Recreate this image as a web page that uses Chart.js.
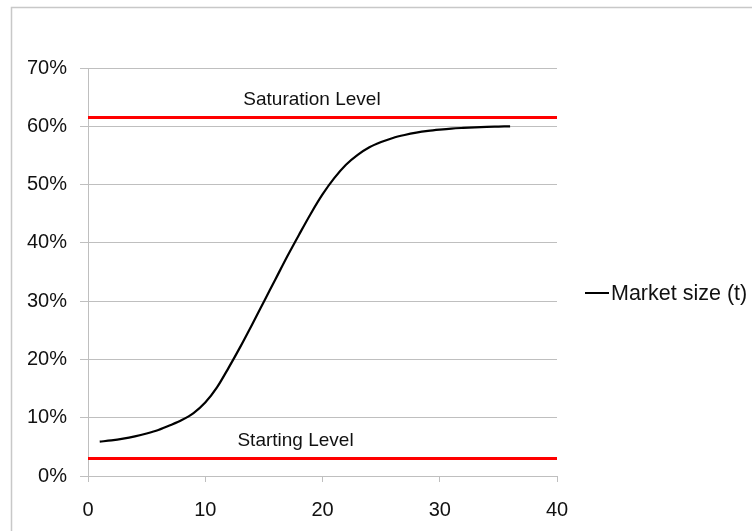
<!DOCTYPE html>
<html>
<head>
<meta charset="utf-8">
<script src="https://cdn.jsdelivr.net/npm/chart.js@4/dist/chart.umd.min.js"></script>
<style>
  html, body { margin: 0; padding: 0; background: #ffffff; }
  #wrap { width: 752px; height: 531px; position: relative; }
</style>
</head>
<body>
<div id="wrap"><canvas id="c" width="752" height="531"></canvas></div>
<script>
// ---- data ----
const periods = [1,2,3,4,5,6,7,8,9,10,11,12,13,14,15,16,17,18,19,20,21,22,23,24,25,26,27,28,29,30,31,32,33,34,35,36];
const marketSize = [5.9,6.1,6.4,6.8,7.3,7.9,8.7,9.6,10.8,12.6,15.2,18.6,22.2,26.0,29.9,33.8,37.7,41.4,45.0,48.3,51.1,53.4,55.1,56.4,57.3,58.0,58.5,58.9,59.2,59.42,59.6,59.72,59.82,59.9,59.95,60.0];
const saturationLevel = 61.5;
const startingLevel = 3;
const xRange = [0, 40];
const yRange = [0, 70];
const seriesLabel = 'Market size (t)';
const saturationLabel = 'Saturation Level';
const startingLabel = 'Starting Level';
const saturationLabelPos = [19.1, 64.5];
const startingLabelPos = [17.7, 6.1];

const FONT = "'Liberation Sans', Arial, sans-serif";

const framePlugin = {
  id: 'frame',
  beforeDraw(chart) {
    const ctx = chart.ctx;
    ctx.save();
    ctx.fillStyle = '#ffffff';
    ctx.fillRect(0, 0, chart.width, chart.height);
    ctx.strokeStyle = '#c8c8c8';
    ctx.lineWidth = 1.5;
    ctx.strokeRect(11.5, 7.5, chart.width + 20, chart.height + 20);
    ctx.restore();
  }
};

const textPlugin = {
  id: 'texts',
  afterDatasetsDraw(chart) {
    const ctx = chart.ctx;
    const xs = chart.scales.x, ys = chart.scales.y;
    ctx.save();
    ctx.fillStyle = '#111111';
    ctx.font = '19px ' + FONT;
    ctx.textAlign = 'center';
    ctx.textBaseline = 'middle';
    ctx.fillText(saturationLabel, xs.getPixelForValue(saturationLabelPos[0]), ys.getPixelForValue(saturationLabelPos[1]));
    ctx.fillText(startingLabel, xs.getPixelForValue(startingLabelPos[0]), ys.getPixelForValue(startingLabelPos[1]));
    // legend
    const lx = 585, ly = 293;
    ctx.strokeStyle = '#000000';
    ctx.lineWidth = 2;
    ctx.beginPath();
    ctx.moveTo(lx, ly);
    ctx.lineTo(lx + 24, ly);
    ctx.stroke();
    ctx.font = '21.5px ' + FONT;
    ctx.textAlign = 'left';
    ctx.fillText(seriesLabel, lx + 26, ly + 1);
    ctx.restore();
  }
};

new Chart(document.getElementById('c'), {
  type: 'line',
  data: {
    datasets: [
      {
        label: seriesLabel,
        data: periods.map((p, i) => ({ x: p, y: marketSize[i] })),
        borderColor: '#000000',
        borderWidth: 2.2,
        pointRadius: 0,
        cubicInterpolationMode: 'monotone',
        fill: false
      },
      {
        label: saturationLabel,
        data: [{ x: xRange[0], y: saturationLevel }, { x: xRange[1], y: saturationLevel }],
        borderColor: '#ff0000',
        borderWidth: 3,
        pointRadius: 0,
        fill: false
      },
      {
        label: startingLabel,
        data: [{ x: xRange[0], y: startingLevel }, { x: xRange[1], y: startingLevel }],
        borderColor: '#ff0000',
        borderWidth: 3,
        pointRadius: 0,
        fill: false
      }
    ]
  },
  options: {
    responsive: false,
    animation: false,
    devicePixelRatio: 1,
    layout: { padding: { left: 0, top: 68, right: 195, bottom: 0 } },
    plugins: { legend: { display: false }, tooltip: { enabled: false } },
    scales: {
      x: {
        type: 'linear',
        min: xRange[0],
        max: xRange[1],
        afterFit(s) { s.height = 55; },
        ticks: { stepSize: 10, color: '#111111', font: { family: FONT, size: 20 }, padding: 16 },
        grid: { display: true, drawOnChartArea: false, drawTicks: true, tickLength: 6, color: '#bfbfbf' },
        border: { display: true, color: '#bfbfbf' }
      },
      y: {
        type: 'linear',
        min: yRange[0],
        max: yRange[1],
        afterFit(s) { s.width = 88; },
        ticks: { stepSize: 10, color: '#111111', font: { family: FONT, size: 20 }, padding: 13, callback: v => v + '%' },
        grid: { color: '#bfbfbf', lineWidth: 1, drawTicks: true, tickLength: 8 },
        border: { display: true, color: '#bfbfbf' }
      }
    }
  },
  plugins: [framePlugin, textPlugin]
});
</script>
</body>
</html>
